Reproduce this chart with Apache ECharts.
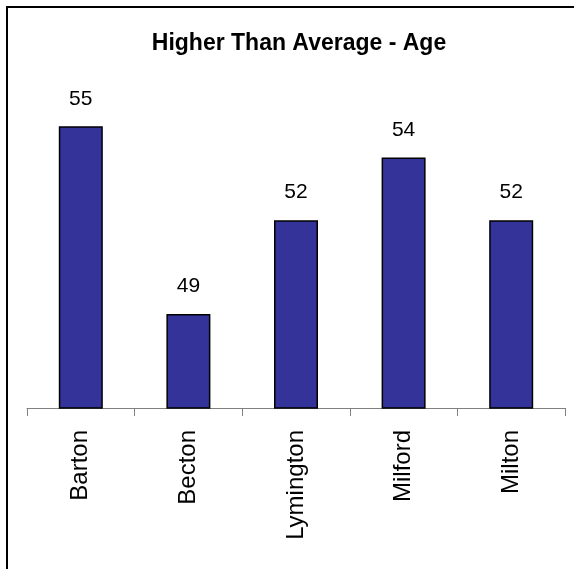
<!DOCTYPE html>
<html>
<head>
<meta charset="utf-8">
<script src="https://cdn.jsdelivr.net/npm/echarts@6/dist/echarts.min.js"></script>
<style>
  html, body { margin: 0; padding: 0; background: #ffffff; }
  #chart { width: 574px; height: 569px; }
</style>
</head>
<body>
<div id="chart"></div>
<script>
// Average age by area
const categories = ['Barton', 'Becton', 'Lymington', 'Milford', 'Milton'];
const ages = [55, 49, 52, 54, 52];
const chartTitle = 'Higher Than Average - Age';

const FONT = '"Liberation Sans", Arial, sans-serif';

const chart = echarts.init(document.getElementById('chart'), null, { renderer: 'canvas' });

chart.setOption({
  animation: false,
  backgroundColor: '#ffffff',
  title: {
    text: chartTitle,
    left: 294,
    textAlign: 'center',
    top: 27,
    textStyle: { fontFamily: FONT, fontSize: 23, fontWeight: 'bold', color: '#000000' }
  },
  graphic: [{
    type: 'rect',
    shape: { x: 7, y: 7, width: 700, height: 700 },
    style: { fill: 'none', stroke: '#000000', lineWidth: 2 },
    silent: true
  }],
  grid: { left: 27, right: 9, top: 95, bottom: 161, containLabel: false },
  xAxis: {
    type: 'category',
    data: categories,
    boundaryGap: true,
    axisLine: { show: true, lineStyle: { color: '#808080', width: 1 } },
    axisTick: { show: true, length: 8, lineStyle: { color: '#808080', width: 1 } },
    axisLabel: {
      rotate: 90,
      margin: 22,
      fontFamily: FONT,
      fontSize: 24,
      color: '#000000'
    }
  },
  yAxis: {
    type: 'value',
    min: 46,
    max: 56,
    interval: 2,
    show: false,
    splitLine: { show: false }
  },
  series: [{
    type: 'bar',
    data: ages,
    barWidth: 44,
    itemStyle: { color: '#333399', borderColor: '#000000', borderWidth: 1.5 },
    label: {
      show: true,
      position: 'top',
      distance: 17,
      fontFamily: FONT,
      fontSize: 21,
      color: '#000000'
    }
  }]
});
</script>
</body>
</html>
